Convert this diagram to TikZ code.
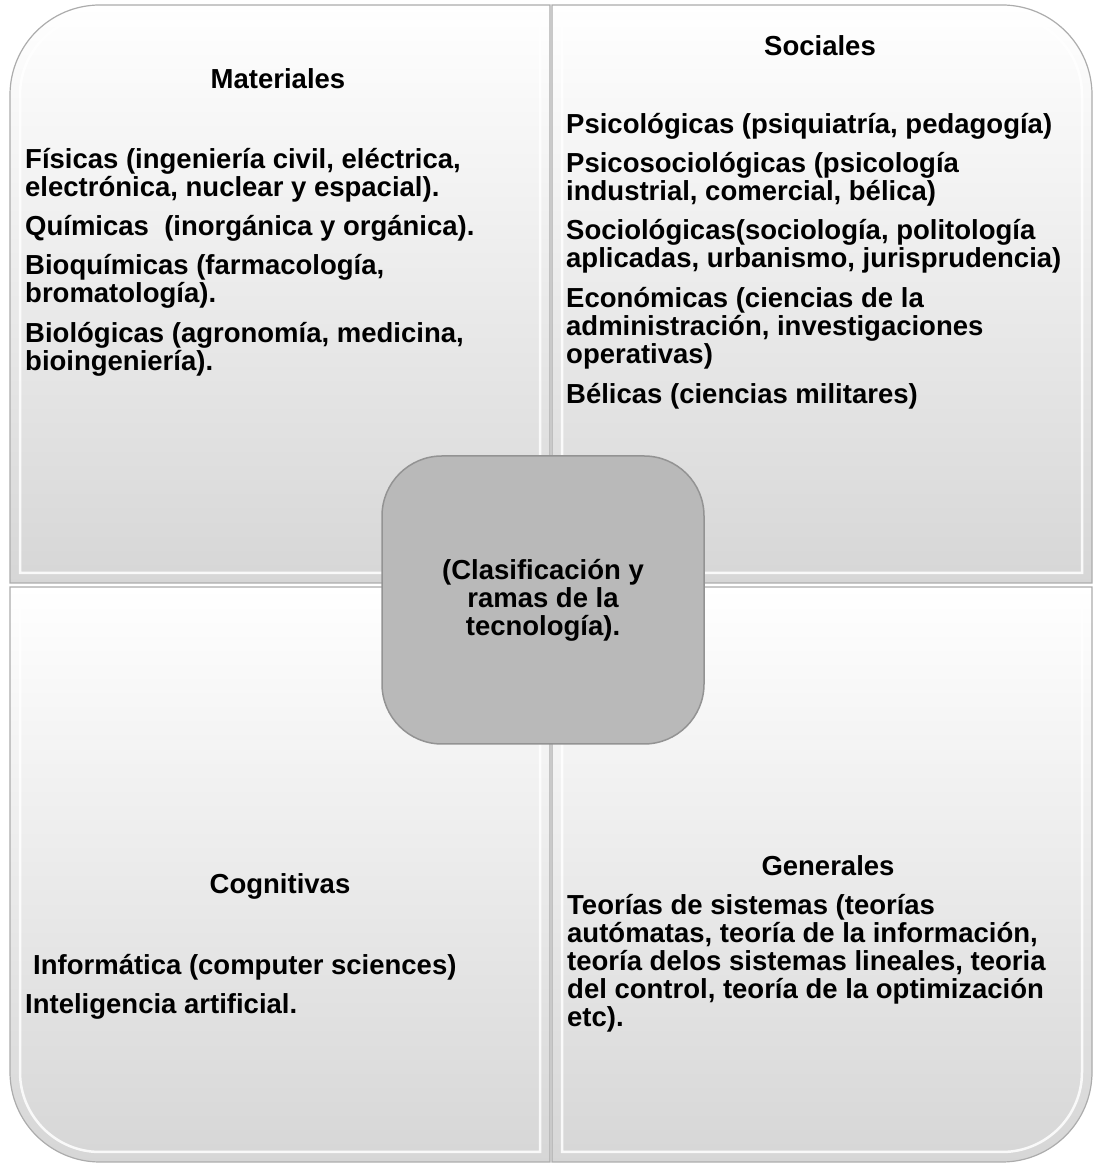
\documentclass[tikz,border=0pt]{standalone}
\usepackage{fontspec}
\setmainfont{Liberation Sans}
\usepackage{tikz}
\usetikzlibrary{positioning}

\tikzset{
  quad/.style={top color=white, bottom color=gray!32, draw=gray!65, line width=1.2pt},
  bevel/.style={draw=white, line width=2.5pt, opacity=0.85},
  hub/.style={draw=gray!85, line width=1.5pt, fill=gray!55, rounded corners=60pt,
    minimum width=322pt, minimum height=288pt, align=center},
  head/.style={anchor=base, inner sep=0pt},
  item/.style={anchor=base west, inner sep=0pt, align=left},
}

\begin{document}
\begin{tikzpicture}[x=1pt,y=1pt,font=\fontsize{27.5}{28}\selectfont\bfseries]
\useasboundingbox (0,0) rectangle (1095,1164);
% four quadrants
\draw[quad] (550,581) -- (10,581) -- (10,1069) arc[start angle=180,end angle=90,radius=90] -- (550,1159) -- cycle;
\draw[quad] (552,581) -- (552,1159) -- (1002,1159) arc[start angle=90,end angle=0,radius=90] -- (1092,581) -- cycle;
\draw[quad] (550,577) -- (550,2) -- (100,2) arc[start angle=270,end angle=180,radius=90] -- (10,577) -- cycle;
\draw[quad] (552,577) -- (1092,577) -- (1092,92) arc[start angle=0,end angle=-90,radius=90] -- (552,2) -- cycle;
% inner highlight
\draw[bevel] (540,591) -- (20,591) -- (20,1069) arc[start angle=180,end angle=90,radius=80] -- (540,1149) -- cycle;
\draw[bevel] (562,591) -- (562,1149) -- (1002,1149) arc[start angle=90,end angle=0,radius=80] -- (1082,591) -- cycle;
\draw[bevel] (540,567) -- (540,12) -- (100,12) arc[start angle=270,end angle=180,radius=80] -- (20,567) -- cycle;
\draw[bevel] (562,567) -- (1082,567) -- (1082,92) arc[start angle=0,end angle=-90,radius=80] -- (562,12) -- cycle;

% Materiales
\node[head] (mat) at (278,1075) {Materiales};
\node[item] (fis) at (25,967) {Físicas (ingeniería civil, eléctrica,\\electrónica, nuclear y espacial).};
\node[item] (qui) at (25,928) {Químicas~ (inorgánica y orgánica).};
\node[item] (bioq) at (25,861) {Bioquímicas (farmacología,\\bromatología).};
\node[item] (biol) at (25,793) {Biológicas (agronomía, medicina,\\bioingeniería).};

% Sociales
\node[head] (soc) at (820,1108) {Sociales};
\node[item] (psi) at (566,1030) {Psicológicas (psiquiatría, pedagogía)};
\node[item] (psoc) at (566,963) {Psicosociológicas (psicología\\industrial, comercial, bélica)};
\node[item] (soci) at (566,896) {Sociológicas(sociología, politología\\aplicadas, urbanismo, jurisprudencia)};
\node[item] (eco) at (566,800) {Económicas (ciencias de la\\administración, investigaciones\\operativas)};
\node[item] (bel) at (566,760) {Bélicas (ciencias militares)};

% Cognitivas
\node[head] (cog) at (280,270) {Cognitivas};
\node[item] (inf) at (33,189) {Informática (computer sciences)};
\node[item] (ia) at (25,150) {Inteligencia artificial.};

% Generales
\node[head] (gen) at (828,288) {Generales};
\node[item] (teo) at (567,137) {Teorías de sistemas (teorías\\autómatas, teoría de la información,\\teoría delos sistemas lineales, teoria\\del control, teoría de la optimización\\etc).};

% centre
\node[hub] (tec) at (543,564) {(Clasificación y\\ramas de la\\tecnología).};
\end{tikzpicture}
\end{document}
